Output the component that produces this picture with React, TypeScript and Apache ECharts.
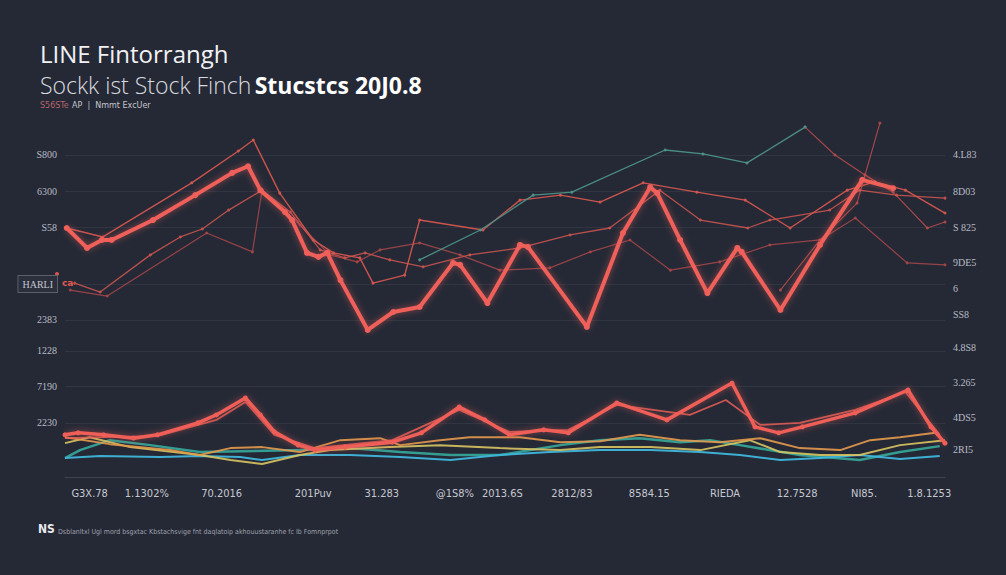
import React, { useEffect, useRef } from "react";
import * as echarts from "echarts";

// ---------- tick labels ----------
const X_LABELS = ["G3X.78", "1.1302%", "70.2016", "201Puv", "31.283", "@1S8%", "2013.6S", "2812/83", "8584.15", "RIEDA", "12.7528", "NI85.", "1.8.1253"];
const X_TICKS = [2.8, 9.3, 17.8, 28.2, 36.0, 44.3, 49.7, 57.6, 66.4, 75.0, 83.2, 90.8, 98.2];
const LEFT_LABELS = ["S800", "6300", "S58", "HARLI", "2383", "1228", "7190", "2230"];
const LEFT_TICKS = [97.0, 86.1, 75.3, 58.1, 47.3, 38.0, 27.4, 16.3];
const RIGHT_LABELS = ["4.L83", "8D03", "S 825", "9DE5", "6", "SS8", "4.8S8", "3.265", "4DS5", "2RI5"];
const RIGHT_TICKS = [97.0, 86.1, 75.3, 64.5, 56.9, 48.8, 38.9, 28.6, 17.8, 8.4];

// ---------- series values ([x, y]) ----------
const mainRed = [[0.2,75.0],[2.5,69.0],[4.2,71.4],[5.3,71.4],[10.0,77.4],[14.8,84.9],[19.0,91.6],[20.8,93.6],[22.2,86.4],[25.0,79.8],[25.8,77.4],[27.5,67.5],[28.8,66.3],[29.8,67.5],[31.3,59.3],[34.4,44.3],[37.3,49.7],[40.3,51.2],[44.1,64.5],[44.9,63.9],[48.0,52.4],[51.7,69.9],[52.6,69.3],[59.3,45.2],[63.4,73.5],[66.5,87.3],[67.3,85.5],[69.9,71.4],[73.0,55.4],[76.4,69.0],[76.9,67.8],[81.3,50.3],[85.8,69.9],[90.6,89.5],[94.1,87.0]];
const thinRed1 = [[0.2,75.0],[4.3,72.3],[14.4,88.6],[19.7,98.2],[21.4,101.5],[24.4,85.5],[28.2,71.4],[30.5,67.5],[33.5,66.0],[35.0,58.4],[38.6,60.8],[40.3,77.4],[47.5,74.4],[51.7,83.4],[56.3,84.9],[60.8,82.8],[65.7,88.6],[71.8,85.8],[77.3,83.4],[82.4,75.0],[88.9,86.4],[92.0,88.9],[95.5,86.4],[100,79.5]];
const thinRed2 = [[1.1,58.4],[4.0,55.7],[9.7,66.9],[13.1,72.3],[15.6,74.7],[18.6,80.4],[22.4,86.4],[25.6,79.8],[29.0,68.4],[31.8,66.0],[34.1,67.5],[36.9,65.4],[40.7,63.3],[46.0,66.9],[51.7,69.0],[57.4,72.9],[61.9,75.0],[67.6,86.4],[72.2,77.4],[77.6,75.0],[80.1,77.4],[86.9,80.4],[90.3,86.4],[94.5,84.9],[100,84.0]];
const thinRed3 = [[0.6,56.3],[4.8,54.5],[16.1,73.5],[21.3,67.8],[22.4,86.4],[26.7,75.9],[30.1,66.9],[33.2,64.8],[35.8,68.4],[40.3,70.5],[44.9,66.9],[49.4,62.3],[55.1,63.0],[59.7,67.8],[64.2,71.4],[68.8,62.3],[74.4,64.8],[80.1,69.9],[85.8,71.4],[89.8,78.0],[95.7,64.5],[100,63.9]];
const tealUpper = [[40.3,65.4],[47.2,74.4],[53.2,84.9],[57.6,85.8],[68.2,98.5],[72.5,97.3],[77.5,94.6],[84.1,105.4]];
const thinRed5 = [[84.1,105.4],[87.5,97.0],[90.9,91.0],[94.1,85.8],[98.0,75.0],[100,76.8]];
const thinRed6 = [[81.3,56.3],[85.8,71.4],[90.0,82.5],[92.6,106.6]];
const lowRed1 = [[0,12.7],[1.5,13.3],[4.4,12.7],[7.8,11.7],[10.5,12.7],[15.1,16.3],[17.2,18.7],[20.5,23.8],[22.2,18.7],[23.8,13.6],[26.5,9.6],[28.4,8.1],[31.8,9.0],[37.2,10.5],[40.5,13.3],[44.8,21.1],[47.7,17.2],[50.5,12.7],[54.4,14.2],[57.2,13.3],[62.7,22.3],[68.4,17.2],[75.8,28.3],[78.4,15.1],[81.1,13.3],[83.8,15.1],[89.8,19.3],[95.8,26.2],[98.4,15.1],[100,10.2]];
const lowRed2 = [[0,11.7],[4.4,12.0],[10.5,12.3],[17.2,17.2],[20.5,22.6],[23.8,12.7],[28.4,8.7],[37.2,11.1],[44.8,20.2],[50.5,13.6],[57.2,14.2],[62.7,21.7],[71.0,18.7],[75.1,23.2],[79.0,15.7],[83.5,16.3],[89.8,20.2],[95.5,25.6],[99.4,12.7]];
const orangeLow = [[0,12.0],[5.1,9.9],[11.9,8.1],[15.3,6.6],[18.8,8.7],[22.4,9.0],[26.7,7.5],[31.3,11.1],[35.8,11.7],[38.1,9.6],[42.6,11.1],[46.0,12.0],[51.7,12.0],[56.3,10.5],[60.8,10.8],[65.3,12.7],[69.9,11.1],[74.4,10.5],[79.0,11.7],[83.5,8.7],[88.1,8.1],[91.5,11.1],[94.9,12.0],[98.9,13.3]];
const yellowLow = [[0,10.2],[2.8,12.0],[7.4,9.0],[15.3,6.6],[18.8,5.1],[22.4,3.9],[26.7,6.6],[30.1,8.1],[36.9,9.0],[42.6,9.6],[49.4,8.7],[56.3,8.1],[60.8,9.0],[66.5,9.0],[72.2,8.1],[77.8,11.1],[81.3,7.5],[85.8,6.6],[90.3,6.6],[94.9,9.6],[100,11.1]];
const cyanLow = [[0,5.7],[4.0,6.3],[10.8,6.0],[15.3,6.3],[19.9,6.0],[22.4,5.1],[26.7,6.6],[32.4,6.6],[38.1,6.0],[43.8,5.1],[49.4,6.6],[55.1,7.5],[60.8,8.1],[66.5,8.1],[72.2,7.5],[76.7,6.6],[81.3,5.1],[85.8,5.7],[90.3,6.6],[94.9,5.4],[99.4,6.3]];
const tealLow = [[0,5.7],[1.7,8.1],[5.1,11.1],[9.7,9.6],[15.3,7.5],[26.7,8.1],[32.4,8.7],[38.1,7.5],[43.8,6.6],[49.4,6.6],[56.3,9.6],[60.8,11.1],[65.3,11.7],[69.9,10.5],[73.3,11.1],[76.7,9.6],[83.5,6.6],[90.3,5.1],[94.9,7.5],[99.4,9.3]];

const labelFor = (ticks: number[], labels: string[]) => (v: number) => {
  const i = ticks.findIndex((t) => Math.abs(t - v) < 1e-6);
  return i >= 0 ? labels[i] : "";
};

const line = (name: string, data: number[][], color: string, width: number, symbolSize: number, opacity = 1, glow = false) => ({
  name,
  type: "line",
  data,
  symbol: "circle",
  symbolSize,
  showSymbol: symbolSize > 0,
  itemStyle: { color, opacity },
  lineStyle: {
    color,
    width,
    opacity,
    ...(glow ? { shadowColor: "rgba(240,95,85,0.55)", shadowBlur: 6 } : {}),
  },
  z: width > 2.5 ? 5 : 3,
  silent: true,
});

export default function App() {
  const ref = useRef<HTMLDivElement>(null);
  useEffect(() => {
    document.body.style.margin = "0";
    const chart = echarts.init(ref.current!, undefined, { renderer: "svg" });
    const leftFmt = labelFor(LEFT_TICKS, LEFT_LABELS);
    chart.setOption({
      animation: false,
      backgroundColor: "#252936",
      grid: { left: 65, right: 61, top: 118.44, bottom: 98 },
      xAxis: {
        type: "value",
        min: 0,
        max: 100,
        axisLine: { show: true, lineStyle: { color: "rgba(255,255,255,0.12)" } },
        axisTick: { show: false },
        splitLine: { show: false },
        axisLabel: {
          customValues: X_TICKS,
          formatter: labelFor(X_TICKS, X_LABELS),
          color: "#c6c8d0",
          fontSize: 11,
          fontFamily: "Liberation Sans Narrow, DejaVu Sans Condensed, sans-serif",
          margin: 11,
        },
      },
      yAxis: [
        {
          type: "value",
          min: 0,
          max: 108,
          position: "left",
          axisLine: { show: false },
          axisTick: { show: false, customValues: LEFT_TICKS },
          splitLine: { show: true, lineStyle: { color: "rgba(255,255,255,0.06)" } },
          axisLabel: {
            customValues: LEFT_TICKS,
            formatter: (v: number) => {
              const s = leftFmt(v);
              return s === "HARLI" ? "{box|" + s + "}" : s;
            },
            color: "#b8bbc5",
            fontSize: 10,
            fontFamily: "Liberation Serif, serif",
            margin: 8,
            rich: {
              box: {
                color: "#c3c6cf",
                fontSize: 10,
                fontFamily: "Liberation Serif, serif",
                borderColor: "#5a5f6c",
                borderWidth: 1,
                backgroundColor: "#2b2f3c",
                padding: [3, 4],
              },
            },
          },
        },
        {
          type: "value",
          min: 0,
          max: 108,
          position: "right",
          axisLine: { show: false },
          axisTick: { show: false },
          splitLine: { show: false },
          axisLabel: {
            customValues: RIGHT_TICKS,
            formatter: labelFor(RIGHT_TICKS, RIGHT_LABELS),
            color: "#b8bbc5",
            fontSize: 10,
            fontFamily: "Liberation Serif, serif",
            margin: 8,
          },
        },
      ],
      graphic: [
        { type: "text", left: 40, top: 41, style: { text: "LINE Fintorrangh", fill: "#f1f1f4", fontSize: 24, fontFamily: "Open Sans, sans-serif", fontWeight: 500 } },
        {
          type: "text",
          left: 40,
          top: 73,
          style: {
            text: "{a|Sockk ist Stock Finch} {b|Stucstcs 20J0.8}",
            rich: {
              a: { fill: "#d8d9df", fontSize: 23, fontFamily: "Open Sans, sans-serif", fontWeight: 300 },
              b: { fill: "#ffffff", fontSize: 23, fontFamily: "Open Sans, sans-serif", fontWeight: 700 },
            },
          },
        },
        {
          type: "text",
          left: 40,
          top: 99,
          style: {
            text: "{r|S56STe} {g|AP  |  Nmmt ExcUer}",
            rich: {
              r: { fill: "#b8646a", fontSize: 8, fontFamily: "DejaVu Sans, sans-serif" },
              g: { fill: "#c3c5cc", fontSize: 8, fontFamily: "DejaVu Sans, sans-serif" },
            },
          },
        },
        { type: "text", left: 62, top: 278, style: { text: "ca", fill: "#e0584f", fontSize: 9, fontWeight: 700, fontFamily: "DejaVu Sans, sans-serif" } },
        { type: "circle", shape: { cx: 57, cy: 274, r: 2 }, style: { fill: "#d9564f" } },
        { type: "text", left: 38, top: 523, style: { text: "NS", fill: "#e8e9ee", fontSize: 12, fontWeight: 700, fontFamily: "DejaVu Sans Condensed, sans-serif" } },
        { type: "text", left: 58, top: 528, style: { text: "Dsblanltxl Ugl mord bsgxtac Kbstachsvige fnt daqlatoip akhouustaranhe fc Ib Fomnprpot", fill: "#9ea0aa", fontSize: 7, fontFamily: "DejaVu Sans Condensed, sans-serif" } },
      ],
      series: [
        line("tealLow", tealLow, "#37a99c", 2.5, 0, 0.9),
        line("cyanLow", cyanLow, "#3fb6dc", 2, 0, 0.95),
        line("yellowLow", yellowLow, "#d9c462", 2, 0, 0.9),
        line("orangeLow", orangeLow, "#e69a4e", 2, 0, 0.9),
        line("lowRed2", lowRed2, "#e85e57", 1.8, 0, 0.85),
        line("lowRed1", lowRed1, "#ef5f58", 3.5, 5, 1, true),
        line("thinRed3", thinRed3, "#a9484a", 1.2, 3, 0.85),
        line("thinRed2", thinRed2, "#c85450", 1.3, 3, 0.9),
        line("thinRed1", thinRed1, "#d2564f", 1.4, 3, 0.95),
        line("thinRed5", thinRed5, "#b84c4c", 1.2, 3, 0.85),
        line("thinRed6", thinRed6, "#b84c4c", 1.2, 3, 0.85),
        line("tealUpper", tealUpper, "#4c9288", 1.3, 3, 0.95),
        line("mainRed", mainRed, "#f0605a", 4, 6, 1, true),
      ],
    });
    return () => chart.dispose();
  }, []);
  return <div ref={ref} style={{ width: 1006, height: 575 }} />;
}
